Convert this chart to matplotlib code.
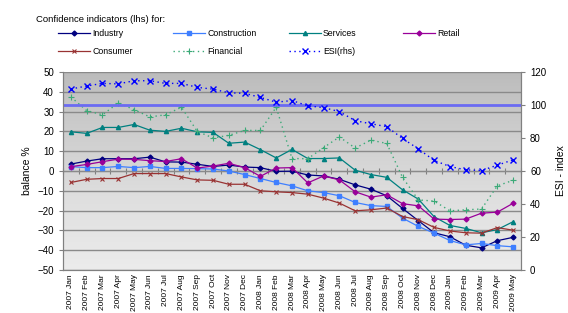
import numpy as np
import matplotlib.pyplot as plt
from matplotlib.colors import LinearSegmentedColormap

plt.rcParams['font.family'] = ['Liberation Sans', 'DejaVu Sans']

# data
months = ['2007 Jan', '2007 Feb', '2007 Mar', '2007 Apr', '2007 May', '2007 Jun',
          '2007 Jul', '2007 Aug', '2007 Sep', '2007 Oct', '2007 Nov', '2007 Dec',
          '2008 Jan', '2008 Feb', '2008 Mar', '2008 Apr', '2008 May', '2008 Jun',
          '2008 Jul', '2008 Aug', '2008 Sep', '2008 Oct', '2008 Nov', '2008 Dec',
          '2009 Jan', '2009 Feb', '2009 Mar', '2009 Apr', '2009 May']

industry = [3.5, 5, 6.2, 6.2, 6.2, 7, 4.6, 4.5, 3.4, 2.3, 3, 2, 1.7, -0.2, -0.1,
            -2, -2.5, -4.2, -7, -9.2, -12.5, -18.9, -25.1, -31.2, -33.2, -37.5,
            -38.8, -35.2, -33.5]
construction = [2.2, 1.7, 1.7, 2.3, 1.7, 2.3, 1.3, 1.3, 1.2, 1.0, 0, -1.8, -3.8,
                -5.8, -7.5, -10, -10.9, -12.5, -15.9, -17.5, -17.9, -23.8, -28,
                -31.4, -35.1, -37.3, -36.6, -37.7, -38.3]
services = [19.8, 19, 22, 22, 23.5, 20.6, 20, 21.6, 19.8, 19.5, 14, 14.6, 10.8,
            6.6, 10.9, 6.3, 6.3, 6.6, 0.4, -1.8, -3.2, -9.5, -14.2, -23.1, -27.5,
            -29, -31.2, -29.6, -25.6]
retail = [2.2, 3.3, 4.7, 6, 5.9, 5.2, 4.8, 6.2, 1.5, 2.5, 3.9, 1.7, -2.7, 1.5, 1.7,
          -6, -2.5, -4.5, -10.5, -13.2, -12, -16.5, -17.6, -24.3, -24.5, -24.3,
          -21.3, -20.8, -16.3]
consumer = [-5.8, -4.2, -3.8, -3.8, -1.3, -1.3, -1.3, -3, -4.5, -4.7, -6.7, -6.7,
            -10, -10.5, -10.9, -11.7, -13.7, -16.2, -20.1, -19.6, -18.7, -23,
            -24.6, -28.5, -30.3, -31.2, -31.4, -28.6, -29.9]
financial = [37.4, 30.5, 28.4, 34.4, 31, 27.3, 28.4, 32.2, 20, 16.7, 18, 20.5,
             20.5, 32.2, 6.3, 6.2, 11.8, 17.2, 11.6, 15.6, 13.9, -3.2, -14.6,
             -15.2, -20.1, -19.6, -19.2, -7.5, -4.7]
esi = [109.7, 111.5, 113.1, 112.8, 114.7, 114.7, 113.1, 113.1, 110.7, 109.6,
       107.4, 107.1, 104.6, 101.7, 102.7, 99.5, 98.4, 96, 90.5, 88.6, 86.9, 79.7,
       73.4, 66.4, 62.7, 60.7, 60.3, 63.5, 66.8]
esi_ref = 100

W, H = 568, 313
fig = plt.figure(figsize=(W / 100, H / 100), dpi=100)
ax = fig.add_axes([63 / W, 43 / H, 458 / W, 198 / H])
ax2 = ax.twinx()

x = np.arange(len(months))

# grey gradient background like the excel plot area
grad = np.linspace(0, 1, 256).reshape(-1, 1)
cmap = LinearSegmentedColormap.from_list('bg', ['#bcbcbc', '#cfcfcf', '#e0e0e0', '#ececec'])
ax.imshow(grad, extent=[0, 1, 0, 1], transform=ax.transAxes, aspect='auto',
          cmap=cmap, zorder=0)

ax.set_axisbelow(True)
ax.yaxis.grid(True, color='#8a8a8a', lw=1)

l_ind, = ax.plot(x, industry, color='#000080', marker='D', ms=2.5, lw=0.9, label='Industry')
l_con, = ax.plot(x, construction, color='#3f7fff', marker='s', ms=2.8, lw=0.9, label='Construction')
l_ser, = ax.plot(x, services, color='#008080', marker='^', ms=3, lw=0.9, label='Services')
l_ret, = ax.plot(x, retail, color='#990099', marker='D', ms=2.5, lw=0.9, label='Retail')
l_cons, = ax.plot(x, consumer, color='#993333', marker='x', ms=3, mew=0.8, lw=0.9, label='Consumer')
l_fin, = ax.plot(x, financial, color='#3caa78', marker='+', ms=5, mew=0.8, lw=1,
                 ls=(0, (1, 2.5)), label='Financial')

ax2.axhline(esi_ref, color='#6b6bf2', lw=2)
l_esi, = ax2.plot(x, esi, color='#0000ff', marker='x', ms=4, mew=1, lw=1,
                  ls=(0, (1, 2.5)), label='ESI(rhs)')

ax.set_xlim(-0.5, len(months) - 0.5)
ax.set_ylim(-50, 50)
ax.set_yticks(np.arange(-50, 51, 10))
ax2.set_ylim(0, 120)
ax2.set_yticks(np.arange(0, 121, 20))

ax.set_xticks(x)
ax.set_xticklabels(months, rotation=90, fontsize=6)
ax.tick_params(axis='x', length=0, pad=3)
ax.tick_params(axis='y', labelsize=7, length=3, color='#808080')
ax2.tick_params(axis='y', labelsize=7, length=3, color='#808080')

# category axis crossing at zero with tick marks between categories
sec = ax.secondary_xaxis(0.5)
sec.set_xticks(np.arange(-0.5, len(months), 1))
sec.tick_params(axis='x', direction='inout', length=5, color='#808080',
                labelbottom=False, labeltop=False)
for s in sec.spines.values():
    s.set_color('#808080')

for a in (ax, ax2):
    a.spines['top'].set_visible(False)
    for side in ('left', 'right', 'bottom'):
        a.spines[side].set_color('#808080')

ax.set_ylabel('balance %', fontsize=7.5, labelpad=4)
ax2.set_ylabel('ESI - index', fontsize=7.5, labelpad=7)

fig.text(36 / W, 1 - 19 / H, 'Confidence indicators (lhs) for:', fontsize=6.8, va='center')

columns = [[l_ind, l_cons], [l_con, l_fin], [l_ser, l_esi], [l_ret]]
col_x = [58, 173, 289, 403]
for handles, cx in zip(columns, col_x):
    fig.legend(handles=handles, loc='upper left', bbox_to_anchor=(cx / W, 1 - 29 / H),
               frameon=False, fontsize=6.3, handlelength=3.6, handletextpad=0.3,
               labelspacing=1.0, borderpad=0, borderaxespad=0)

fig.savefig('out.png', dpi=100)
